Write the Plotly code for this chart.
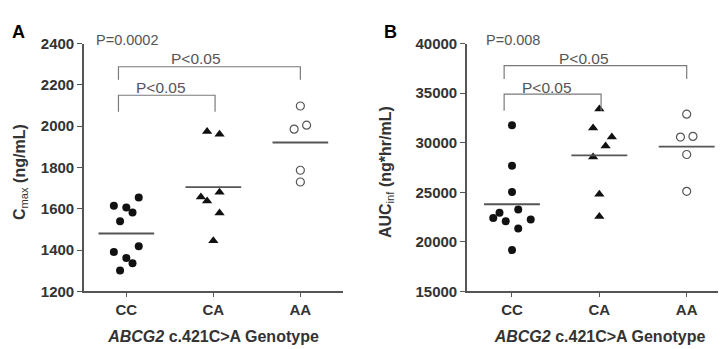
import numpy as np
import plotly.graph_objects as go

# ---------------- data ----------------
genotypes = ["CC", "CA", "AA"]

# Panel A: Cmax (ng/mL)
cmax_cc = [1615, 1606, 1655, 1582, 1540, 1391, 1419, 1362, 1336, 1301]
cmax_ca = [1974, 1961, 1657, 1638, 1680, 1580, 1446]
cmax_aa = [1986, 2005, 1787, 1730, 2098]
# beeswarm slots
cmax_cc_slot = [-2, 0, 2, 1, -1, -2, 2, 0, 1, -1]
cmax_ca_slot = [-1, 1, -2, -1, 1, 1, 0]
cmax_aa_slot = [-1, 1, 0, 0, 0]

# Panel B: AUCinf (ng*hr/mL)
auc_cc = [31769, 27692, 25038, 23269, 22952, 22404, 22087, 22250, 21346, 19173]
auc_ca = [33404, 31481, 30577, 29683, 28558, 24808, 22567]
auc_aa = [32885, 30577, 30644, 28817, 25096]
auc_cc_slot = [0, 0, 0, 1, -2, -3, -1, 3, 1, 0]
auc_ca_slot = [0, -1, 2, 1, -1, 0, 0]
auc_aa_slot = [0, -1, 1, 0, 0]

cmax_ticks = [1200, 1400, 1600, 1800, 2000, 2200, 2400]
auc_ticks = [15000, 20000, 25000, 30000, 35000, 40000]

overall_p = ["P=0.0002", "P=0.008"]
pair_p = "P<0.05"

# ---------------- style ----------------
FONT = "Liberation Sans, Arial, sans-serif"
AX = "#555555"
TXT = "#333333"
SLOT = 0.0715
HALF = 0.32
W, H = 726, 349

fig = go.Figure()

def add_panel(fig, xref, yref, groups, slots):
    markers = [
        dict(symbol="circle", size=8, color="#111111", line=dict(width=0)),
        dict(symbol="triangle-up", size=9, color="#111111", line=dict(width=0)),
        dict(symbol="circle-open", size=8, color="#555555", line=dict(width=1.2)),
    ]
    for i, (vals, sl) in enumerate(zip(groups, slots)):
        xs = [i + s * SLOT for s in sl]
        fig.add_trace(go.Scatter(x=xs, y=vals, mode="markers", marker=markers[i],
                                 xaxis=xref, yaxis=yref, showlegend=False,
                                 cliponaxis=False, hoverinfo="y"))
        m = float(np.mean(vals))
        fig.add_trace(go.Scatter(x=[i - HALF, i + HALF], y=[m, m], mode="lines",
                                 line=dict(color="#555555", width=1.8),
                                 xaxis=xref, yaxis=yref, showlegend=False,
                                 hoverinfo="skip"))

def add_bracket(fig, xref, yref, x0, x1, ytop, ylow):
    fig.add_trace(go.Scatter(x=[x0, x0, x1, x1], y=[ylow, ytop, ytop, ylow],
                             mode="lines", line=dict(color="#7a7a7a", width=1.2),
                             xaxis=xref, yaxis=yref, showlegend=False,
                             hoverinfo="skip", cliponaxis=False))

add_panel(fig, "x", "y", [cmax_cc, cmax_ca, cmax_aa],
          [cmax_cc_slot, cmax_ca_slot, cmax_aa_slot])
add_panel(fig, "x2", "y2", [auc_cc, auc_ca, auc_aa],
          [auc_cc_slot, auc_ca_slot, auc_aa_slot])

add_bracket(fig, "x", "y", -0.09, 2.0, 2288, 2225)
add_bracket(fig, "x", "y", -0.09, 1.02, 2150, 2070)
add_bracket(fig, "x2", "y2", -0.09, 2.0, 37788, 36442)
add_bracket(fig, "x2", "y2", -0.09, 1.02, 34904, 33240)

ann = []
def ptxt(px, py, t, size=14.5, color="#555555", xanchor="center", yanchor="middle",
         bold=False, angle=0):
    ann.append(dict(x=px / W, y=1 - py / H, xref="paper", yref="paper", text=t,
                    showarrow=False, textangle=angle,
                    font=dict(family=FONT, size=size, color=color,
                              weight="bold" if bold else "normal"),
                    xanchor=xanchor, yanchor=yanchor))

# p-values (pixel positions)
ptxt(86, 24, overall_p[0], xanchor="left")
ptxt(188, 44, pair_p, size=15.5)
ptxt(152.5, 74.5, pair_p, size=15.5)
ptxt(476, 24, overall_p[1], xanchor="left")
ptxt(575.5, 44, pair_p, size=15.5)
ptxt(538.5, 74.5, pair_p, size=15.5)

# panel letters
ptxt(2, 3, "<b>A</b>", size=18, color="#000", xanchor="left", yanchor="top")
ptxt(374, 3, "<b>B</b>", size=18, color="#000", xanchor="left", yanchor="top")

# y titles
ptxt(12, 163, "<b>C</b><sub>max</sub><b> (ng/mL)</b>", size=16, color=TXT, angle=-90)
ptxt(378, 163, "<b>AUC</b><sub>inf</sub><b> (ng*hr/mL)</b>", size=16, color=TXT, angle=-90)

ydom = [1 - 288.5 / H, 1 - 28 / H]

tickfont = dict(family=FONT, size=15, color=TXT, weight="bold")
titlefont = dict(family=FONT, size=16, color=TXT)
xtitle = "<b><i>ABCG2</i> c.421C>A Genotype</b>"

common_x = dict(tickvals=[0, 1, 2], ticktext=genotypes, showline=True, linecolor=AX,
                linewidth=1.6, ticks="outside", ticklen=4, tickwidth=1.4, tickcolor=AX,
                showgrid=False, zeroline=False, tickfont=tickfont,
                title=dict(text=xtitle, font=titlefont, standoff=14))
common_y = dict(showline=True, linecolor=AX, linewidth=1.6, ticks="outside", ticklen=5,
                tickwidth=1.4, tickcolor=AX, showgrid=False, zeroline=False,
                tickfont=tickfont, tickformat="d")

fig.update_layout(
    width=W, height=H, margin=dict(l=0, r=0, t=0, b=0),
    paper_bgcolor="white", plot_bgcolor="white",
    xaxis=dict(domain=[76 / W, 335 / W], range=[-0.486, 2.49], anchor="y", **common_x),
    yaxis=dict(domain=ydom, range=[1200, 2400], tickvals=cmax_ticks, anchor="x", **common_y),
    xaxis2=dict(domain=[459 / W, 725 / W], range=[-0.515, 2.53], anchor="y2", **common_x),
    yaxis2=dict(domain=ydom, range=[15000, 40000], tickvals=auc_ticks, anchor="x2", **common_y),
    annotations=ann,
    showlegend=False,
)

fig.write_html("out.html")
